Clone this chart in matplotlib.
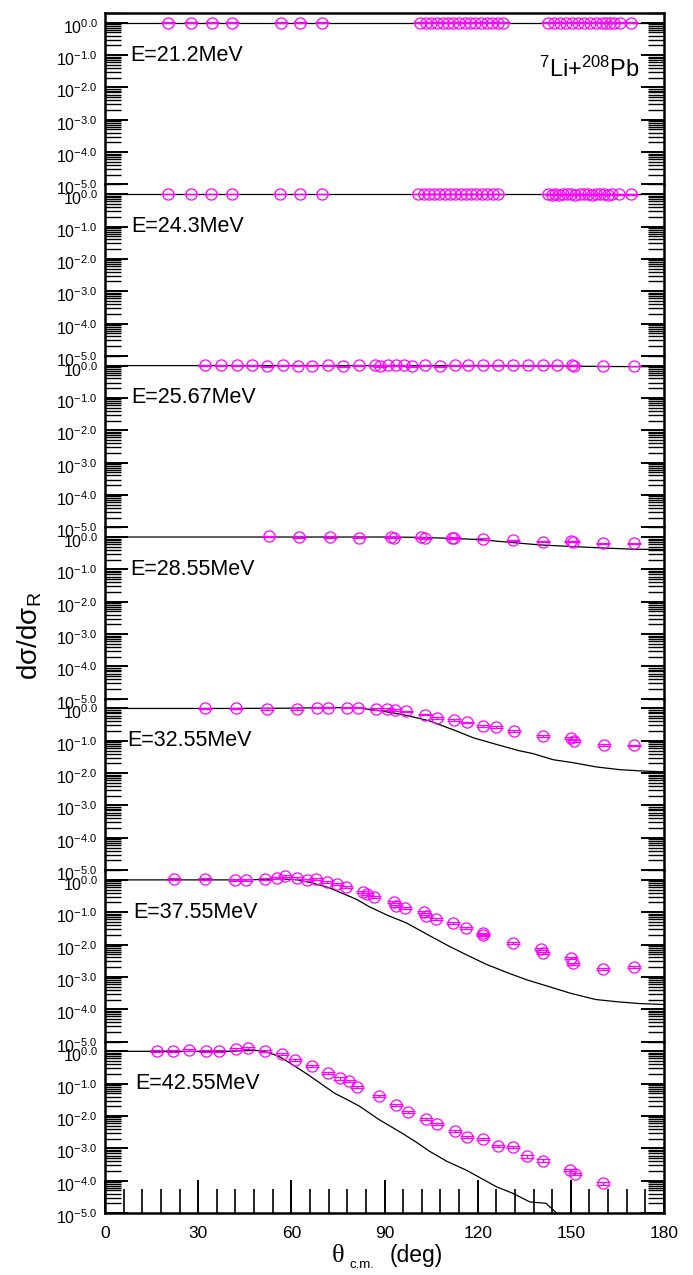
import numpy as np
import matplotlib.pyplot as plt
import matplotlib.transforms as mtransforms
from matplotlib.ticker import FixedLocator, MultipleLocator, NullFormatter

plt.rcParams['font.family'] = ['Liberation Sans', 'DejaVu Sans']
plt.rcParams['mathtext.fontset'] = 'custom'
plt.rcParams['mathtext.rm'] = 'Liberation Sans'
plt.rcParams['mathtext.it'] = 'Liberation Sans:italic'
plt.rcParams['mathtext.bf'] = 'Liberation Sans:bold'

# beam energies (MeV), one panel each, top to bottom
energies = ['21.2', '24.3', '25.67', '28.55', '32.55', '37.55', '42.55']
label_x = [8.0, 8.4, 8.4, 8.0, 7.1, 9.0, 9.7]

# measured elastic ratios to Rutherford
ang_212 = [20.4, 27.7, 34.3, 40.9, 56.6, 62.8, 69.8,
           101.5, 103.3, 105.1, 106.9, 108.7, 110.4, 112.2, 114.0, 115.8, 117.6,
           119.3, 121.1, 122.9, 124.7, 126.5, 128.3,
           142.6, 144.6, 146.5, 148.4, 150.4, 152.3, 154.3, 156.2, 158.1, 160.1,
           161.4, 162.6, 164.0, 165.9, 169.5]
rat_212 = [1.0, 1.0, 1.0, 1.0, 1.0, 1.0, 1.0,
           1.0, 1.0, 1.0, 1.0, 1.0, 1.0, 1.0, 1.0, 1.0, 1.0,
           1.0, 1.0, 1.0, 1.0, 1.0, 1.0,
           1.0, 1.0, 1.0, 1.0, 1.0, 1.0, 1.0, 1.0, 1.0, 1.0,
           1.0, 1.0, 1.0, 1.0, 1.0]

ang_243 = [20.4, 27.6, 34.1, 40.9, 56.5, 62.8, 69.8,
           100.9, 102.6, 104.3, 106.0, 107.7, 109.4, 111.1, 112.8, 114.5, 116.2,
           117.9, 119.6, 121.3, 123.0, 124.8, 126.5,
           142.6, 143.8, 145.0, 146.3, 147.6, 148.9, 150.2, 151.5, 152.8, 154.1,
           155.4, 156.7, 158.0, 159.3, 160.6, 161.9, 163.4, 165.5, 169.5]
rat_243 = [1.0, 1.0, 1.0, 1.0, 1.0, 1.0, 1.0,
           1.0, 1.0, 1.0, 1.0, 1.0, 1.0, 1.0, 1.0, 1.0, 1.0,
           1.0, 1.0, 1.0, 1.0, 1.0, 1.0,
           1.0, 0.97, 1.02, 0.97, 1.02, 0.98, 1.02, 0.97, 1.02, 0.98,
           1.02, 0.97, 1.02, 0.98, 1.02, 0.97, 1.0, 0.99, 0.99]

ang_2567 = [32.2, 37.4, 42.4, 47.3, 52.2, 57.3, 62.1, 66.7, 71.9, 76.7, 81.8,
            86.8, 88.6, 91.1, 93.7, 96.3, 98.7, 103.2, 107.8, 112.6, 117.0,
            121.7, 126.5, 131.5, 136.3, 141.1, 145.6, 150.4, 151.0, 160.5, 170.4]
rat_2567 = [1.02, 1.02, 1.02, 1.02, 0.95, 1.02, 0.99, 0.99, 1.02, 0.96, 1.02,
            1.02, 0.95, 1.02, 1.02, 1.02, 0.95, 1.02, 0.95, 1.02, 1.02,
            1.02, 1.02, 1.02, 1.02, 1.02, 1.02, 1.01, 0.99, 0.97, 0.97]

ang_2855 = [52.7, 62.6, 72.4, 81.9, 92.1, 93.1, 101.9, 102.9, 111.7, 112.5,
            121.7, 131.4, 140.9, 150.1, 150.7, 160.5, 170.2]
rat_2855 = [1.05, 1.0, 1.0, 0.95, 0.98, 0.95, 0.98, 0.91, 0.91, 0.93,
            0.87, 0.79, 0.71, 0.75, 0.71, 0.65, 0.65]

ang_3255 = [32.3, 42.1, 52.1, 61.7, 68.2, 71.9, 78.0, 81.6, 87.3, 90.8, 93.4,
            96.9, 103.0, 107.0, 112.4, 116.7, 121.6, 125.8, 131.7, 141.1, 150.0,
            151.1, 160.7, 170.3]
rat_3255 = [1.0, 1.0, 0.95, 0.95, 1.07, 1.07, 1.07, 1.07, 0.98, 0.95, 0.88,
            0.81, 0.65, 0.51, 0.45, 0.37, 0.29, 0.27, 0.20, 0.14, 0.12,
            0.097, 0.075, 0.072]

ang_3755 = [22.1, 32.2, 42.0, 45.4, 51.6, 55.3, 58.1, 61.8, 65.1, 68.0, 71.6,
            74.6, 77.6, 83.2, 84.4, 86.5, 92.9, 93.7, 96.7, 102.6, 103.3, 106.6,
            112.0, 116.1, 121.7, 121.7, 131.3, 140.5, 141.1, 150.0, 150.8,
            160.5, 170.4]
rat_3755 = [1.10, 1.10, 1.0, 1.0, 1.10, 1.18, 1.33, 1.18, 1.0, 1.05, 0.87,
            0.73, 0.62, 0.42, 0.37, 0.30, 0.205, 0.16, 0.135, 0.10, 0.079, 0.063,
            0.047, 0.033, 0.022, 0.020, 0.011, 0.0072, 0.0054, 0.0038, 0.0026,
            0.0018, 0.0020]

ang_4255 = [16.9, 22.0, 27.1, 32.5, 36.8, 42.1, 46.1, 51.5, 56.9, 61.2, 66.6,
            71.9, 75.7, 78.7, 81.0, 88.3, 93.7, 97.7, 103.3, 107.0, 112.7,
            116.7, 121.6, 126.6, 131.3, 135.8, 141.1, 149.7, 151.3, 160.4]
rat_4255 = [1.0, 1.0, 1.10, 1.0, 1.0, 1.18, 1.30, 1.05, 0.83, 0.55, 0.36,
            0.21, 0.145, 0.12, 0.081, 0.041, 0.022, 0.013, 0.0082, 0.0057, 0.0035,
            0.0022, 0.0020, 0.0012, 0.0011, 0.00056, 0.00042, 0.00021, 0.00016,
            0.000082]

# optical model curves
fit_ang_flat = [0, 180]
fit_flat = [1.0, 1.0]

fit_ang_2567 = [0, 120, 140, 150, 160, 180]
fit_2567 = [1.0, 1.0, 0.98, 0.96, 0.94, 0.92]

fit_ang_2855 = [0, 90, 100, 110, 120, 130, 140, 150, 160, 170, 180]
fit_2855 = [1.0, 1.0, 0.98, 0.92, 0.84, 0.69, 0.57, 0.51, 0.46, 0.42, 0.41]

fit_ang_3255 = [0, 40, 60, 70, 78, 83, 88.5, 93, 97.1, 104.6, 113.2, 118.6,
                126.1, 133.1, 137.9, 144.3, 150.8, 158.3, 165.8, 173.3, 180]
fit_3255 = [1.0, 1.0, 1.02, 1.06, 1.06, 1.0, 0.85, 0.72, 0.61, 0.41, 0.20,
            0.124, 0.077, 0.050, 0.040, 0.026, 0.021, 0.0155, 0.0128, 0.0116, 0.011]

fit_ang_3755 = [0, 45, 52, 58, 62, 67, 72, 76, 81, 85, 91, 97, 104, 111, 117,
                123, 130, 136, 143, 150, 158, 165, 172, 180]
fit_3755 = [1.0, 1.0, 1.04, 1.06, 1.0, 0.79, 0.58, 0.40, 0.25, 0.15, 0.08,
            0.047, 0.02, 0.0087, 0.0045, 0.0024, 0.0013, 0.0008, 0.0005,
            0.00031, 0.0002, 0.00017, 0.00015, 0.00014]

fit_ang_4255 = [0, 40, 45, 49, 52, 56, 60.5, 65, 69, 74, 78, 82, 88, 95.5,
                100, 104.6, 110, 116.4, 121, 126, 131.5, 136.8, 142, 145.4, 148]
fit_4255 = [1.0, 1.0, 1.05, 1.06, 0.95, 0.7, 0.38, 0.2, 0.108, 0.05, 0.032,
            0.02, 0.008, 0.003, 0.0016, 0.0008, 0.0004, 0.00021, 0.00012,
            6.5e-5, 4.0e-5, 2.2e-5, 2.0e-5, 1.0e-5, 6e-6]

panels = [
    (ang_212, rat_212, fit_ang_flat, fit_flat, 0.02),
    (ang_243, rat_243, fit_ang_flat, fit_flat, 0.02),
    (ang_2567, rat_2567, fit_ang_2567, fit_2567, 0.03),
    (ang_2855, rat_2855, fit_ang_2855, fit_2855, 0.04),
    (ang_3255, rat_3255, fit_ang_3255, fit_3255, 0.06),
    (ang_3755, rat_3755, fit_ang_3755, fit_3755, 0.07),
    (ang_4255, rat_4255, fit_ang_4255, fit_4255, 0.08),
]

decades = [-5, -4, -3, -2, -1, 0]
major_y = [10.0 ** e for e in decades]
minor_y = [k * 10.0 ** e for e in decades for k in range(2, 10)]

W, H = 693, 1275
fig = plt.figure(figsize=(W / 100, H / 100), dpi=100)
x0, x1 = 105, 664
top0, panel_h = 13, 171.43
px = 0.72  # points per pixel at 100 dpi

magenta = '#ff00ff'
for i, (ang, rat, fang, fval, rel) in enumerate(panels):
    top = top0 + i * panel_h
    ax = fig.add_axes([x0 / W, 1 - (top + panel_h) / H, (x1 - x0) / W, panel_h / H])
    ax.set_yscale('log')
    ax.set_xlim(0, 180)
    ax.set_ylim(1e-5, 2)

    ax.plot(fang, fval, color='black', lw=0.9, zorder=2)
    ang = np.array(ang)
    rat = np.array(rat)
    ax.errorbar(ang, rat, yerr=rat * rel, fmt='o', ms=8.0, mfc='none',
                mec=magenta, mew=0.9, ecolor=magenta, elinewidth=0.9,
                capsize=4.8, capthick=0.9, zorder=3)

    ax.text(label_x[i], 0.1, 'E=%sMeV' % energies[i], fontsize=15.5,
            ha='left', va='center', zorder=4)

    ax.yaxis.set_major_locator(FixedLocator(major_y))
    ax.yaxis.set_minor_locator(FixedLocator(minor_y))
    ax.yaxis.set_major_formatter(NullFormatter())
    ax.yaxis.set_minor_formatter(NullFormatter())
    ax.tick_params(axis='y', which='major', direction='in', left=True, right=True,
                   length=23 * px, width=1.4)
    ax.tick_params(axis='y', which='minor', direction='in', left=True, right=True,
                   length=16 * px, width=1.0)

    # decade labels: "10" sits just under the tick, exponent above it
    lab_tr = mtransforms.offset_copy(ax.get_yaxis_transform(), fig=fig,
                                     x=-7, y=-11, units='dots')
    for e in decades:
        ax.text(0, 10.0 ** e, r'$\mathregular{10^{%.1f}}$' % e, transform=lab_tr,
                fontsize=11.5, ha='right', va='baseline', clip_on=False)

    for side in ['left', 'right', 'top', 'bottom']:
        ax.spines[side].set_linewidth(1.8)
    if i > 0:
        ax.spines['top'].set_visible(False)
    if i < len(panels) - 1:
        ax.spines['bottom'].set_visible(False)
        ax.tick_params(axis='x', which='both', bottom=False, top=False,
                       labelbottom=False)
    else:
        ax.xaxis.set_major_locator(MultipleLocator(30))
        ax.xaxis.set_minor_locator(MultipleLocator(6))
        ax.tick_params(axis='x', which='major', direction='in', bottom=True,
                       top=False, length=33 * px, width=1.4, labelsize=12.5, pad=9)
        ax.tick_params(axis='x', which='minor', direction='in', bottom=True,
                       top=False, length=24 * px, width=1.2)
    ax.set_facecolor('none')

fig.text(640 / W, 1 - 77 / H, r'$^{7}$Li+$^{208}$Pb', fontsize=17,
         ha='right', va='baseline')

fig.text(30 / W, 1 - 636 / H, r'd$\mathregular{\sigma}$/d$\mathregular{\sigma_R}$',
         fontsize=20, rotation=90, ha='center', va='center')

fig.text(332 / W, 1 - 1262 / H, 'θ', family='Liberation Serif', fontsize=19,
         ha='left', va='baseline')
fig.text(350 / W, 1 - 1268 / H, 'c.m.', fontsize=9.5, ha='left', va='baseline')
fig.text(390 / W, 1 - 1262 / H, '(deg)', fontsize=16.5, ha='left', va='baseline')

fig.savefig('out.png', dpi=100)
